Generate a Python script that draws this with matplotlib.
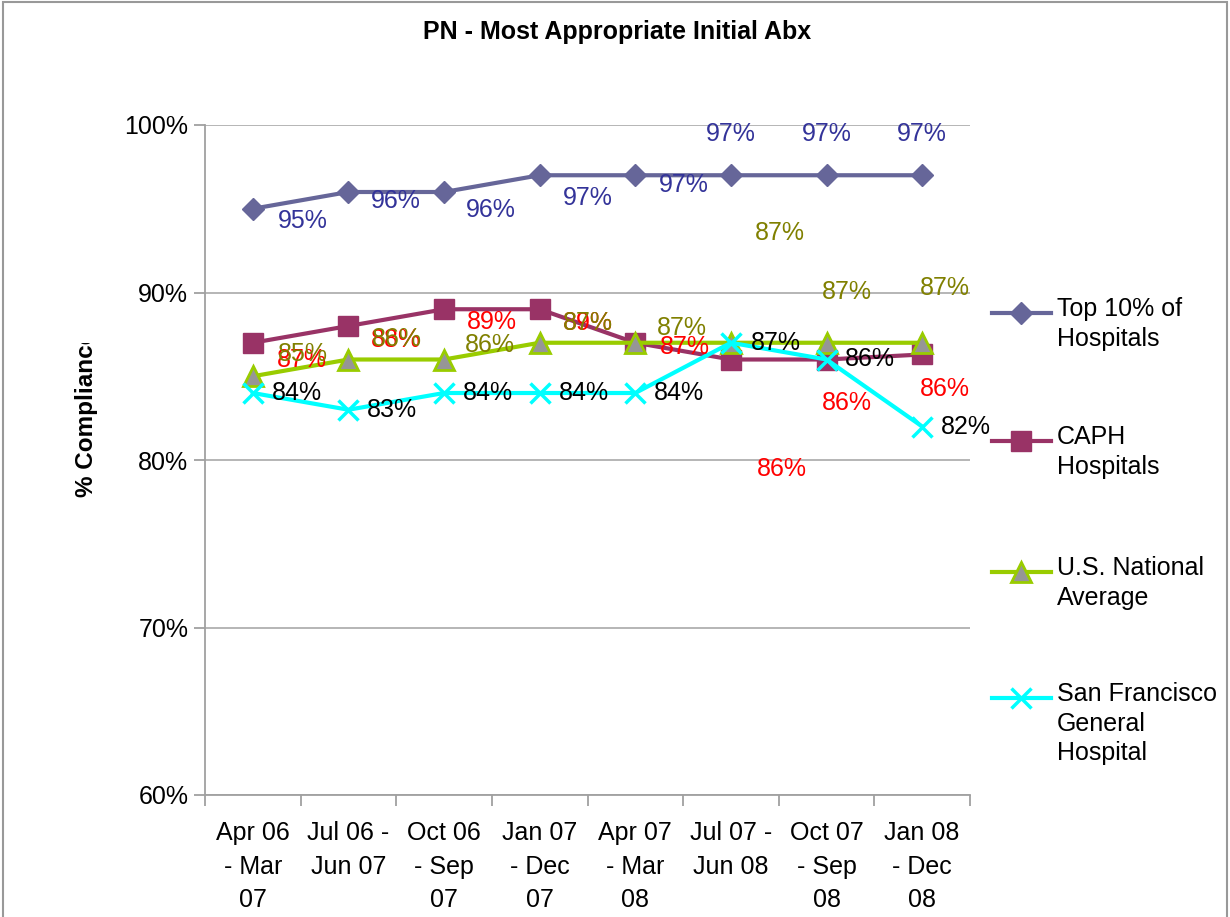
import matplotlib
matplotlib.use("Agg")
import matplotlib.pyplot as plt
from matplotlib.lines import Line2D
from matplotlib.patches import Rectangle
from matplotlib.transforms import Bbox

plt.rcParams['font.family'] = ['Liberation Sans', 'DejaVu Sans']

# data
periods = ["Apr 06\n- Mar\n07", "Jul 06 -\nJun 07", "Oct 06\n- Sep\n07", "Jan 07\n- Dec\n07",
           "Apr 07\n- Mar\n08", "Jul 07 -\nJun 08", "Oct 07\n- Sep\n08", "Jan 08\n- Dec\n08"]
top10 = [95, 96, 96, 97, 97, 97, 97, 97]
caph = [87, 88, 89, 89, 87, 86, 86, 86.3]
national = [85, 86, 86, 87, 87, 87, 87, 87]
sfgh = [84, 83, 84, 84, 84, 87, 86, 82]

series_names = ["Top 10% of\nHospitals", "CAPH\nHospitals", "U.S. National\nAverage",
                "San Francisco\nGeneral\nHospital"]

# label offsets in pixels (the excel labels sit in odd places)
off_top10 = [(50, -12), (47, -9), (47, -18), (48, -23), (49, -10), (0, 41), (0, 41), (0, 41)]
off_caph = [(49, -17), (47, -14), (48, -13), (48, -14), (50, -4), (51, -110), (20, -43), (23, -35)]
off_nat = [(50, 22), (48, 20), (46, 15), (48, 20), (47, 15), (49, 110), (20, 51), (23, 55)]
off_sf = [(44, 0), (44, 0), (44, 0), (44, 0), (44, 0), (45, 0), (43, 0), (44, 0)]

W, H = 1230, 917
fig = plt.figure(figsize=(W / 100, H / 100), dpi=100)
ax = fig.add_axes([205 / W, 1 - 795 / H, 765 / W, 670 / H])

x = list(range(len(periods)))

styles = [
    dict(color="#666699", marker="D", ms=11, mfc="#666699", mec="#666699", lw=3),
    dict(color="#993366", marker="s", ms=14, mfc="#993366", mec="#993366", lw=3),
    dict(color="#99CC00", marker="^", ms=15, mfc="#969696", mec="#99CC00", mew=2, lw=3),
    dict(color="#00FFFF", marker="x", ms=14, mec="#00FFFF", mew=2.5, lw=3),
]
label_colors = ["#333399", "#FF0000", "#808000", "#000000"]
all_series = [top10, caph, national, sfgh]
all_offsets = [off_top10, off_caph, off_nat, off_sf]

for vals, st in zip(all_series, styles):
    ax.plot(x, vals, clip_on=False, zorder=3, **st)

for vals, offs, col in zip(all_series, all_offsets, label_colors):
    for xi, v, (dx, dy) in zip(x, vals, offs):
        ax.annotate(f"{round(v)}%", (xi, v), xytext=(dx, dy), textcoords="offset pixels",
                    ha="center", va="center", fontsize=18, color=col, zorder=4)

ax.set_xlim(-0.5, len(periods) - 0.5)
ax.set_ylim(60, 100)
ax.set_yticks([60, 70, 80, 90, 100])
ax.set_yticklabels([f"{t}%" for t in [60, 70, 80, 90, 100]], fontsize=18)
ax.yaxis.grid(True, color="#B0B0B0", lw=1.3)
ax.set_axisbelow(True)

ax.set_xticks([i - 0.5 for i in range(len(periods) + 1)])
ax.set_xticklabels([])
ax.set_xticks(x, minor=True)
ax.set_xticklabels(periods, minor=True, fontsize=18, linespacing=1.5)
ax.tick_params(axis="x", which="minor", length=0, pad=19)
ax.tick_params(axis="x", which="major", length=8, color="#A0A0A0", width=1.3)
ax.tick_params(axis="y", length=8, color="#A0A0A0", width=1.3, pad=4)

for s in ["top", "right"]:
    ax.spines[s].set_visible(False)
for s in ["left", "bottom"]:
    ax.spines[s].set_color("#A0A0A0")
    ax.spines[s].set_linewidth(1.3)

fig.text(617 / W, 1 - 32 / H, "PN - Most Appropriate Initial Abx", ha="center", va="center",
         fontsize=18, fontweight="bold")

# y label, cut off at the top like in the source
yl = fig.text(87 / W, 1 - 497 / H, "% Compliance", rotation=90, ha="center", va="bottom",
              fontsize=17.5, fontweight="bold")
yl.set_clip_box(Bbox([[0, 0], [W, H - 343]]))
yl.set_clip_on(True)

# legend drawn by hand so the marker lines up with the first text line
leg_y = [313, 441, 572, 698]
for name, st, ly in zip(series_names, styles, leg_y):
    yy = 1 - ly / H
    fig.add_artist(Line2D([992 / W, 1051 / W], [yy, yy], color=st["color"], lw=st["lw"],
                          transform=fig.transFigure))
    mk = {k: v for k, v in st.items() if k not in ("lw",)}
    fig.add_artist(Line2D([1021 / W], [yy], transform=fig.transFigure, ls="none", **mk))
    fig.text(1057 / W, 1 - (ly - 16) / H, name, ha="left", va="top", fontsize=18,
             linespacing=1.3, transform=fig.transFigure)

fig.add_artist(Rectangle((3 / W, -0.01), 1224 / W, 1.01 - 2 / H, transform=fig.transFigure,
                         fill=False, ec="#999999", lw=1.5))

fig.savefig("out.png", dpi=100)
